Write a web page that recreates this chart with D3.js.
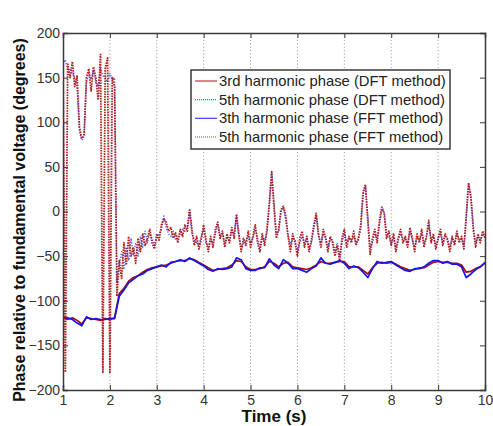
<!DOCTYPE html>
<html>
<head>
<meta charset="utf-8">
<script src="https://cdn.jsdelivr.net/npm/d3@7"></script>
<style>
  html, body { margin: 0; padding: 0; background: #fff; }
  svg { display: block; }
  text { font-family: "Liberation Sans", Arial, sans-serif; }
</style>
</head>
<body>
<svg id="chart" width="493" height="426"></svg>
<script>
// ---------------- data ----------------
const xTicks = [1, 2, 3, 4, 5, 6, 7, 8, 9, 10];
const yTicks = [-200, -150, -100, -50, 0, 50, 100, 150, 200];

// 5th harmonic phase, sampled every 0.05 s from 1.00 s to 10.00 s
const dft5 = [
  172, -180, 165, 150, 168, 140, 152, 95, 82, 86, 150, 160, 135, 162, 150, 125, 176, -180, 160, 172,
  -180, 150, 140, -95, -55, -75, -35, -60, -28, -50, -40, -58, -30, -45, -25, -38, -30, -20, -35, -42,
  -25, -32, -15, -8, -12, -22, -18, -30, -24, -35, -20, -28, -15, -22, 3, -20, -38, -28, -42, -30,
  -15, -32, -45, -28, -40, -20, -12, -30, -22, -40, -25, -35, -18, -30, -3, -25, -45, -30, -38, -22,
  -40, -28, -15, -35, -45, -25, -38, -20, 10, 44, 5, -30, -20, 2, 6, -5, -28, -45, -25, -35,
  -50, -30, -22, -40, -28, -45, -32, -15, -2, -25, -40, -20, -30, -45, -28, -35, -50, -38, -55, -30,
  -20, -40, -28, -35, -22, -38, -30, -15, 22, 30, -10, -48, -30, -20, -35, -10, 5, -2, -30, -22,
  -38, -25, -45, -30, -20, -35, -28, -40, -18, -30, -45, -25, -35, -20, -40, -28, -10, -35, -25, -42,
  -30, -20, -38, -25, -32, -45, -28, -38, -22, -35, -28, -42, -5, 32, 15, -20, -40, -25, -35, -22,
  -30
];
const fft5 = [
  165, 170, 158, 160, 155, 150, 140, 90, 80, 84, 145, 155, 148, 158, 145, 140, 160, 152, 150, 145,
  155, 148, 150, -80, -60, -45, -65, -40, -55, -30, -48, -35, -50, -28, -40, -22, -35, -25, -30, -38,
  -30, -25, -20, -5, -18, -25, -28, -22, -32, -28, -25, -20, -22, -18, 0, -25, -32, -35, -38, -28,
  -20, -35, -40, -32, -35, -25, -15, -28, -25, -35, -30, -32, -22, -25, -5, -28, -40, -35, -32, -28,
  -35, -30, -20, -30, -40, -30, -32, -25, 5, 45, 10, -25, -22, 0, 4, -10, -25, -38, -30, -32,
  -45, -35, -28, -35, -30, -40, -35, -20, -5, -28, -35, -25, -28, -40, -30, -32, -45, -35, -50, -35,
  -25, -35, -30, -32, -28, -35, -32, -20, 18, 28, -5, -40, -35, -25, -30, -15, 2, 0, -25, -28,
  -35, -30, -40, -32, -25, -30, -32, -35, -22, -32, -40, -28, -32, -25, -35, -30, -15, -32, -28, -38,
  -32, -25, -35, -28, -30, -40, -30, -35, -25, -32, -30, -38, -8, 30, 18, -15, -35, -28, -32, -25,
  -28
];

// 3rd harmonic phase, sampled every 0.1 s from 1.0 s to 10.0 s
const dft3 = [
  -118, -121, -119, -122, -126, -119, -120, -121, -122, -120,
  -121, -119, -92, -86, -78, -74, -72, -68, -65, -63,
  -62, -61, -60, -58, -56, -55, -55, -53, -54, -57,
  -60, -63, -66, -65, -64, -63, -60, -55, -56, -62,
  -65, -65, -64, -62, -56, -58, -62, -58, -57, -62,
  -63, -64, -65, -63, -60, -56, -58, -58, -57, -56,
  -56, -62, -62, -62, -66, -70, -63, -58, -57, -58,
  -57, -59, -62, -64, -66, -65, -63, -63, -60, -57,
  -56, -57, -57, -58, -58, -60, -68, -67, -64, -62,
  -58
];
const fft3 = [
  -120, -119, -121, -125, -128, -118, -121, -120, -121, -121,
  -120, -120, -95, -88, -80, -76, -72, -70, -66, -64,
  -62, -60, -62, -57, -56, -54, -56, -52, -55, -58,
  -61, -65, -67, -64, -65, -64, -62, -52, -54, -64,
  -66, -66, -63, -63, -53, -60, -64, -54, -58, -64,
  -64, -66, -68, -64, -61, -52, -58, -59, -57, -55,
  -58, -64, -61, -63, -68, -74, -64, -56, -58, -57,
  -56, -60, -63, -66, -67, -64, -64, -62, -58, -55,
  -55, -58, -56, -59, -59, -62, -74, -70, -65, -62,
  -57
];

const seriesNames = [
  "3rd harmonic phase (DFT method)",
  "5th harmonic phase (DFT method)",
  "3th harmonic phase (FFT method)",
  "5th harmonic phase (FFT method)"
];

// ---------------- layout ----------------
const W = 493, H = 426;
const margin = { left: 63, right: 8, top: 33, bottom: 36 };
const RED = "#a80c0c", BLUE = "#1414f0";

const svg = d3.select("#chart");
const x = d3.scaleLinear().domain([1, 10]).range([margin.left, W - margin.right]);
const y = d3.scaleLinear().domain([-200, 200]).range([H - margin.bottom, margin.top]);

const t5 = dft5.map((_, i) => 1 + i * 0.05);
const t3 = dft3.map((_, i) => 1 + i * 0.1);

// grid
svg.append("g").selectAll("line")
  .data(xTicks.slice(1, -1)).join("line")
  .attr("x1", d => x(d)).attr("x2", d => x(d))
  .attr("y1", y(200)).attr("y2", y(-200))
  .attr("stroke", "#8a8a8a").attr("stroke-width", 0.8)
  .attr("stroke-dasharray", "1.2,2.2");

// lines
svg.append("clipPath").attr("id", "clip").append("rect")
  .attr("x", x(1)).attr("y", y(200)).attr("width", x(10) - x(1)).attr("height", y(-200) - y(200));

const plot = svg.append("g").attr("clip-path", "url(#clip)");
const line = d3.line().x(d => x(d[0])).y(d => y(d[1]));

const series = [
  { t: t3, v: dft3, color: RED, dash: null, w: 1.7, op: 1 },
  { t: t5, v: dft5, color: RED, dash: "1.6,1", w: 1.8, op: 0.9 },
  { t: t3, v: fft3, color: BLUE, dash: null, w: 1.7, op: 1 },
  { t: t5, v: fft5, color: BLUE, dash: "1.2,1.6", w: 1.4, op: 0.75 }
];
// drawing order: 3rd DFT, 3rd FFT, 5th FFT, 5th DFT (red noisy band on top)
[0, 2, 3, 1].forEach(k => {
  const s = series[k];
  plot.append("path")
    .datum(s.t.map((t, i) => [t, s.v[i]]))
    .attr("d", line)
    .attr("fill", "none")
    .attr("stroke", s.color)
    .attr("stroke-opacity", s.op)
    .attr("stroke-width", s.w)
    .attr("stroke-linejoin", "round")
    .attr("stroke-dasharray", s.dash);
});

// axes (inward ticks on all sides)
const axisColor = "#3a3a3a";
const tickLen = 5;
const axLeft = svg.append("g").attr("transform", `translate(${x(1)},0)`)
  .call(d3.axisLeft(y).tickValues(yTicks).tickSize(-tickLen).tickPadding(3).tickFormat(d3.format("d")));
const axRight = svg.append("g").attr("transform", `translate(${x(10)},0)`)
  .call(d3.axisRight(y).tickValues(yTicks).tickSize(-tickLen).tickFormat(""));
const axBottom = svg.append("g").attr("transform", `translate(0,${y(-200)})`)
  .call(d3.axisBottom(x).tickValues(xTicks).tickSize(-tickLen).tickPadding(5).tickFormat(d3.format("d")));
const axTop = svg.append("g").attr("transform", `translate(0,${y(200)})`)
  .call(d3.axisTop(x).tickValues(xTicks).tickSize(-tickLen).tickFormat(""));

[axLeft, axRight, axBottom, axTop].forEach(g => {
  g.select(".domain").attr("stroke", axisColor).attr("stroke-width", 1.5);
  g.selectAll(".tick line").attr("stroke", axisColor).attr("stroke-width", 1);
  g.selectAll(".tick text")
    .attr("fill", "#333")
    .style("font-size", "14px")
    .style("font-family", "'Liberation Sans', Arial, sans-serif");
});

// axis titles
svg.append("text")
  .attr("x", (x(1) + x(10)) / 2)
  .attr("y", 422)
  .attr("text-anchor", "middle")
  .style("font-size", "17px").style("font-weight", "bold")
  .attr("fill", "#111")
  .text("Time (s)");

svg.append("text")
  .attr("transform", "translate(25,220) rotate(-90)")
  .attr("text-anchor", "middle")
  .style("font-size", "16px").style("font-weight", "bold")
  .attr("fill", "#111")
  .text("Phase relative to fundamental voltage (degrees)");

// legend
const leg = svg.append("g");
leg.append("rect")
  .attr("x", 191).attr("y", 70).attr("width", 259).attr("height", 79)
  .attr("fill", "#fff").attr("stroke", axisColor).attr("stroke-width", 1.5);
const legRows = d3.scalePoint().domain(d3.range(4)).range([81, 137]);
seriesNames.forEach((name, i) => {
  const s = series[i];
  leg.append("line")
    .attr("x1", 195).attr("x2", 217)
    .attr("y1", legRows(i)).attr("y2", legRows(i))
    .attr("stroke", s.color).attr("stroke-width", s.dash ? 1.2 : 1.3)
    .attr("stroke-opacity", 0.75)
    .attr("stroke-dasharray", s.dash ? "1,1" : null);
  leg.append("text")
    .attr("x", 219).attr("y", legRows(i) + 5)
    .style("font-size", "14.8px")
    .attr("fill", "#222")
    .text(name);
});
</script>
</body>
</html>
